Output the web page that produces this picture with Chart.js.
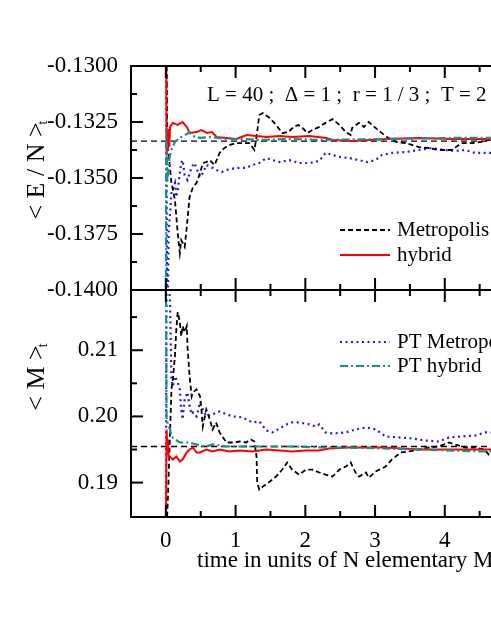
<!DOCTYPE html>
<html>
<head>
<meta charset="utf-8">
<script src="https://cdn.jsdelivr.net/npm/chart.js@4/dist/chart.umd.min.js"></script>
<style>
  html, body { margin: 0; padding: 0; background: #fff; overflow: hidden; }
  #wrap { width: 491px; height: 635px; overflow: hidden; }
</style>
</head>
<body>
<div id="wrap"><canvas id="c" width="600" height="635"></canvas></div>
<script>
// time axis
const xRange = [-0.5, 6];
const xTicks = [0, 1, 2, 3, 4, 5, 6];

// upper panel: < E / N >_t
const eRange = [-0.14, -0.13];
const eTicks = [-0.14, -0.1375, -0.135, -0.1325, -0.13];
const eExact = -0.13335;

const metroE = [[0,-0.1250],[0.02,-0.13330],[0.08,-0.13522],[0.13,-0.13598],[0.17,-0.13745],[0.20,-0.13835],[0.22,-0.13777],[0.27,-0.13808],[0.30,-0.13719],[0.34,-0.13585],[0.39,-0.13540],[0.44,-0.13522],[0.49,-0.13478],[0.53,-0.13433],[0.58,-0.13429],[0.63,-0.13420],[0.70,-0.13442],[0.77,-0.13388],[0.84,-0.13366],[0.91,-0.13353],[1.01,-0.13344],[1.10,-0.13344],[1.20,-0.13344],[1.27,-0.13375],[1.30,-0.13317],[1.34,-0.13219],[1.39,-0.13210],[1.49,-0.13232],[1.58,-0.13263],[1.67,-0.13299],[1.76,-0.13295],[1.83,-0.13272],[1.90,-0.13263],[1.96,-0.13277],[2.03,-0.13299],[2.10,-0.13286],[2.20,-0.13272],[2.29,-0.13254],[2.39,-0.13237],[2.49,-0.13263],[2.58,-0.13295],[2.65,-0.13308],[2.67,-0.13277],[2.77,-0.13254],[2.84,-0.13272],[2.91,-0.13250],[2.99,-0.13272],[3.08,-0.13295],[3.17,-0.13317],[3.30,-0.13339],[3.44,-0.13344],[3.63,-0.13362],[3.77,-0.13366],[3.91,-0.13375],[4.10,-0.13375],[4.24,-0.13344],[4.39,-0.13344],[4.53,-0.13339],[4.63,-0.13330],[5.0,-0.13335],[6.0,-0.13335]];

const hybridE = [[0,-0.1250],[0.01,-0.13400],[0.02,-0.13280],[0.03,-0.13380],[0.04,-0.13300],[0.05,-0.13360],[0.06,-0.13272],[0.10,-0.13254],[0.17,-0.13263],[0.24,-0.13250],[0.30,-0.13272],[0.34,-0.13299],[0.44,-0.13295],[0.51,-0.13286],[0.59,-0.13299],[0.66,-0.13295],[0.73,-0.13317],[0.87,-0.13321],[1.01,-0.13326],[1.16,-0.13308],[1.30,-0.13313],[1.44,-0.13317],[1.63,-0.13313],[1.81,-0.13317],[2.06,-0.13313],[2.30,-0.13321],[2.39,-0.13330],[2.67,-0.13335],[3.16,-0.13326],[3.63,-0.13321],[4.10,-0.13326],[4.63,-0.13326],[6.0,-0.13326]];

const ptMetroE = [[0,-0.1250],[0.02,-0.1430],[0.04,-0.13745],[0.08,-0.13567],[0.13,-0.13522],[0.15,-0.13585],[0.17,-0.13554],[0.22,-0.13433],[0.24,-0.13420],[0.27,-0.13487],[0.31,-0.13509],[0.37,-0.13451],[0.41,-0.13433],[0.49,-0.13496],[0.53,-0.13478],[0.58,-0.13442],[0.65,-0.13451],[0.72,-0.13464],[0.80,-0.13473],[0.87,-0.13464],[1.01,-0.13455],[1.15,-0.13455],[1.24,-0.13442],[1.34,-0.13433],[1.44,-0.13411],[1.53,-0.13420],[1.63,-0.13429],[1.77,-0.13420],[1.91,-0.13433],[2.06,-0.13433],[2.20,-0.13424],[2.29,-0.13388],[2.39,-0.13397],[2.49,-0.13406],[2.63,-0.13411],[2.77,-0.13420],[2.89,-0.13429],[3.01,-0.13420],[3.10,-0.13397],[3.24,-0.13388],[3.44,-0.13384],[3.63,-0.13375],[3.81,-0.13366],[4.00,-0.13375],[4.15,-0.13379],[4.29,-0.13375],[4.43,-0.13388],[4.57,-0.13388],[6.0,-0.13385]];

const ptHybridE = [[0,-0.1430],[0.005,-0.13280],[0.02,-0.13520],[0.05,-0.13411],[0.08,-0.13375],[0.13,-0.13339],[0.22,-0.13317],[0.30,-0.13304],[0.34,-0.13295],[0.39,-0.13313],[0.49,-0.13321],[0.63,-0.13317],[0.87,-0.13326],[1.10,-0.13326],[1.34,-0.13330],[1.81,-0.13326],[2.20,-0.13330],[3.16,-0.13326],[4.10,-0.13321],[4.63,-0.13321],[6.0,-0.13321]];

// lower panel: < M >_t
const mRange = [0.1848, 0.2191];
const mTicks = [0.19, 0.20, 0.21];
const mExact = 0.19545;

const metroM = [[0,0.1800],[0.03,0.18788],[0.06,0.19758],[0.08,0.20409],[0.10,0.20561],[0.13,0.20909],[0.15,0.21318],[0.17,0.21576],[0.20,0.21424],[0.22,0.21212],[0.24,0.21364],[0.27,0.21273],[0.30,0.21364],[0.31,0.21061],[0.34,0.20606],[0.37,0.20303],[0.39,0.20364],[0.44,0.20409],[0.49,0.20303],[0.51,0.20106],[0.53,0.19848],[0.58,0.20106],[0.63,0.19955],[0.67,0.19803],[0.72,0.19909],[0.77,0.19758],[0.81,0.19697],[0.87,0.19606],[0.96,0.19606],[1.06,0.19621],[1.15,0.19606],[1.22,0.19652],[1.27,0.19621],[1.30,0.19394],[1.31,0.19000],[1.34,0.18894],[1.39,0.18939],[1.49,0.19015],[1.58,0.19091],[1.67,0.19197],[1.74,0.19303],[1.81,0.19197],[1.91,0.19121],[2.01,0.19197],[2.10,0.19197],[2.20,0.19152],[2.29,0.19121],[2.39,0.19091],[2.49,0.19197],[2.58,0.19242],[2.65,0.19303],[2.72,0.19152],[2.77,0.19091],[2.87,0.19152],[2.91,0.19076],[3.01,0.19167],[3.15,0.19242],[3.24,0.19348],[3.37,0.19455],[3.49,0.19470],[3.63,0.19500],[3.77,0.19530],[3.91,0.19545],[4.06,0.19606],[4.15,0.19576],[4.29,0.19530],[4.43,0.19530],[4.57,0.19500],[4.63,0.19424],[6.0,0.19450]];

const hybridM = [[0,0.1800],[0.01,0.19803],[0.02,0.19576],[0.03,0.19652],[0.04,0.19400],[0.06,0.19394],[0.10,0.19348],[0.15,0.19394],[0.20,0.19318],[0.24,0.19348],[0.30,0.19455],[0.34,0.19500],[0.39,0.19530],[0.44,0.19455],[0.49,0.19455],[0.58,0.19500],[0.67,0.19470],[0.77,0.19500],[0.91,0.19470],[1.06,0.19485],[1.24,0.19470],[1.44,0.19500],[1.63,0.19485],[1.81,0.19470],[2.01,0.19485],[2.20,0.19485],[2.34,0.19515],[2.62,0.19530],[3.15,0.19530],[3.63,0.19500],[4.10,0.19500],[4.58,0.19500],[6.0,0.19500]];

const ptMetroM = [[0,0.1800],[0.01,0.2250],[0.06,0.21727],[0.08,0.20561],[0.10,0.20455],[0.13,0.20606],[0.15,0.20561],[0.17,0.20515],[0.20,0.20409],[0.22,0.20106],[0.24,0.19955],[0.27,0.20258],[0.31,0.20364],[0.34,0.20152],[0.37,0.20030],[0.39,0.20061],[0.44,0.20000],[0.49,0.20212],[0.51,0.20152],[0.58,0.20000],[0.67,0.20030],[0.77,0.20076],[0.87,0.20030],[0.96,0.20000],[1.10,0.19985],[1.24,0.19909],[1.34,0.19924],[1.44,0.19788],[1.53,0.19758],[1.63,0.19818],[1.73,0.19879],[1.81,0.19909],[1.91,0.19909],[2.06,0.19879],[2.15,0.19848],[2.20,0.19879],[2.29,0.19758],[2.39,0.19742],[2.58,0.19758],[2.72,0.19803],[2.87,0.19833],[3.01,0.19803],[3.15,0.19697],[3.34,0.19682],[3.53,0.19667],[3.72,0.19636],[3.91,0.19621],[4.06,0.19682],[4.24,0.19697],[4.44,0.19712],[4.58,0.19758],[6.0,0.19730]];

const ptHybridM = [[0,0.2250],[0.01,0.19955],[0.03,0.19879],[0.06,0.19803],[0.08,0.19697],[0.13,0.19652],[0.20,0.19606],[0.30,0.19606],[0.39,0.19591],[0.49,0.19561],[0.58,0.19545],[0.67,0.19576],[0.87,0.19545],[1.15,0.19545],[1.34,0.19545],[1.81,0.19545],[2.29,0.19530],[2.62,0.19530],[3.63,0.19500],[4.57,0.19470],[6.0,0.19470]];

const labels = ['Metropolis', 'hybrid', 'PT Metropolis', 'PT hybrid'];
const annotation = 'L = 40 ;  \u0394 = 1 ;  r = 1 / 3 ;  T = 2';
const xTitle = 'time in units of N elementary MC steps';

const SERIF = '"Liberation Serif", "Times New Roman", serif';
const styles = {
  'Metropolis':    { color: '#000000', dash: [5, 3], width: 1.8 },
  'hybrid':        { color: '#ff0000', dash: [], width: 2 },
  'PT Metropolis': { color: '#1a1aff', dash: [2, 3.5], width: 2.2 },
  'PT hybrid':     { color: '#1e8c88', dash: [8, 3, 2, 3], width: 2.2 }
};

const toXY = arr => arr.map(p => ({ x: p[0], y: p[1] }));

function line(label, pts, axis) {
  const s = styles[label];
  return {
    label, data: toXY(pts), yAxisID: axis,
    borderColor: s.color, borderDash: s.dash, borderWidth: s.width,
    pointRadius: 0, tension: 0, fill: false
  };
}
function refLine(v, axis) {
  return {
    label: 'exact', data: [{ x: xRange[0], y: v }, { x: xRange[1], y: v }], yAxisID: axis,
    borderColor: '#000', borderDash: [6, 4], borderWidth: 1.3, pointRadius: 0, fill: false
  };
}

const datasets = [
  line('PT hybrid', ptHybridE, 'yTop'),
  line('hybrid', hybridE, 'yTop'),
  line('Metropolis', metroE, 'yTop'),
  line('PT Metropolis', ptMetroE, 'yTop'),
  refLine(eExact, 'yTop'),
  line('PT hybrid', ptHybridM, 'yBot'),
  line('hybrid', hybridM, 'yBot'),
  line('Metropolis', metroM, 'yBot'),
  line('PT Metropolis', ptMetroM, 'yBot'),
  refLine(mExact, 'yBot')
];

// frame, inward ticks, panel texts and legends
const panelPlugin = {
  id: 'panels',
  beforeDatasetDraw(chart, args) {
    const xs = chart.scales.x, ys = chart.scales[args.meta.yAxisID];
    const ctx = chart.ctx;
    ctx.save();
    ctx.beginPath();
    ctx.rect(xs.left, ys.top, xs.right - xs.left, ys.bottom - ys.top);
    ctx.clip();
  },
  afterDatasetDraw(chart) { chart.ctx.restore(); },
  afterDraw(chart) {
    const ctx = chart.ctx, xs = chart.scales.x;
    const seg = (x1, y1, x2, y2) => { ctx.beginPath(); ctx.moveTo(x1, y1); ctx.lineTo(x2, y2); ctx.stroke(); };
    ctx.save();
    ctx.strokeStyle = '#000';
    ctx.lineWidth = 2;
    ctx.setLineDash([]);
    const xv = xs.ticks.map(t => t.value);
    ['yTop', 'yBot'].forEach(id => {
      const ys = chart.scales[id];
      ctx.strokeRect(xs.left, ys.top, xs.right - xs.left, ys.bottom - ys.top);
      xv.forEach((v, i) => {
        const p = xs.getPixelForValue(v);
        seg(p, ys.top, p, ys.top + 12);
        seg(p, ys.bottom, p, ys.bottom - 12);
        const half = i > 0 ? (v + xv[i - 1]) / 2 : v - 0.5;
        if (half > xs.min) {
          const q = xs.getPixelForValue(half);
          seg(q, ys.top, q, ys.top + 6);
          seg(q, ys.bottom, q, ys.bottom - 6);
        }
      });
      const yv = ys.ticks.map(t => t.value);
      yv.forEach((v, i) => {
        const p = ys.getPixelForValue(v);
        seg(xs.left, p, xs.left + 12, p);
        if (i > 0) {
          const q = ys.getPixelForValue((v + yv[i - 1]) / 2);
          seg(xs.left, q, xs.left + 6, q);
        }
      });
      const step = yv[1] - yv[0];
      const extra = yv[yv.length - 1] + step / 2;
      if (extra < ys.max) {
        const q = ys.getPixelForValue(extra);
        seg(xs.left, q, xs.left + 6, q);
      }
    });

    ctx.fillStyle = '#000';
    // parameters
    ctx.font = '21px ' + SERIF;
    ctx.textAlign = 'left';
    ctx.textBaseline = 'alphabetic';
    ctx.fillText(annotation, 207, 101);

    // x title
    ctx.font = '23px ' + SERIF;
    ctx.textBaseline = 'middle';
    ctx.fillText(xTitle, 197, 561);

    // y titles with subscript t
    const yTitle = (text, bx, cy) => {
      ctx.save();
      ctx.translate(bx, cy);
      ctx.rotate(-Math.PI / 2);
      ctx.font = '26px ' + SERIF;
      ctx.textAlign = 'center';
      ctx.textBaseline = 'alphabetic';
      ctx.fillText(text, 0, 0);
      const w = ctx.measureText(text).width;
      ctx.font = '14px ' + SERIF;
      ctx.textAlign = 'left';
      ctx.fillText('t', w / 2 - 2, 3);
      ctx.restore();
    };
    yTitle('< E / N >', 44, 171);
    yTitle('< M >', 44, 378);

    // legends
    const legend = (label, y) => {
      const s = styles[label];
      ctx.strokeStyle = s.color;
      ctx.lineWidth = s.width;
      ctx.setLineDash(s.dash);
      seg(340, y, 390, y);
      ctx.setLineDash([]);
      ctx.font = '21px ' + SERIF;
      ctx.textBaseline = 'middle';
      ctx.fillText(label, 397, y);
    };
    legend(labels[0], 230);
    legend(labels[1], 255);
    legend(labels[2], 342);
    legend(labels[3], 366);
    ctx.restore();
  }
};

Chart.defaults.font.family = SERIF;
Chart.defaults.color = '#000';

new Chart(document.getElementById('c'), {
  type: 'line',
  data: { datasets },
  options: {
    responsive: false,
    devicePixelRatio: 1,
    animation: false,
    layout: { padding: { top: 66, left: 0, right: 12, bottom: 0 } },
    plugins: { legend: { display: false }, tooltip: { enabled: false } },
    scales: {
      x: {
        type: 'linear', position: 'bottom', min: xRange[0], max: xRange[1],
        grid: { display: false, drawTicks: false }, border: { display: false },
        ticks: { font: { size: 23 }, padding: 10, maxRotation: 0 },
        afterBuildTicks: s => { s.ticks = xTicks.map(v => ({ value: v })); },
        afterFit: s => { s.height = 118; }
      },
      yTop: {
        type: 'linear', position: 'left', stack: 'panels', stackWeight: 224, weight: 2,
        min: eRange[0], max: eRange[1],
        grid: { display: false, drawTicks: false }, border: { display: false },
        ticks: { font: { size: 23 }, padding: 13, callback: v => v.toFixed(4) },
        afterBuildTicks: s => { s.ticks = eTicks.map(v => ({ value: v })); },
        afterFit: s => { s.width = 131; }
      },
      yBot: {
        type: 'linear', position: 'left', stack: 'panels', stackWeight: 227, weight: 1,
        min: mRange[0], max: mRange[1],
        grid: { display: false, drawTicks: false }, border: { display: false },
        ticks: { font: { size: 23 }, padding: 13, callback: v => v.toFixed(2) },
        afterBuildTicks: s => { s.ticks = mTicks.map(v => ({ value: v })); },
        afterFit: s => { s.width = 131; }
      }
    }
  },
  plugins: [panelPlugin]
});
</script>
</body>
</html>
